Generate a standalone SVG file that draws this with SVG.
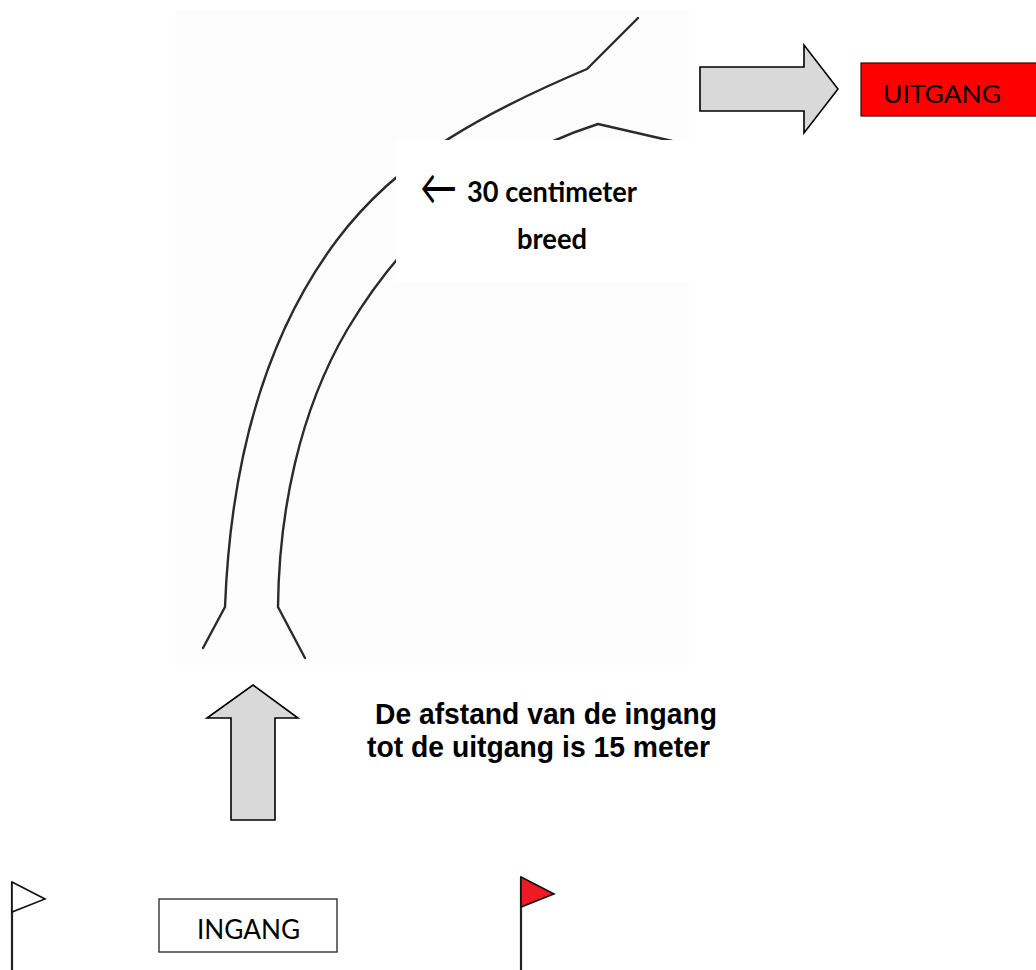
<svg xmlns="http://www.w3.org/2000/svg" width="1036" height="970" viewBox="0 0 1036 970">
  <style>
    .road { fill: none; stroke: #2b2b2b; stroke-width: 2.4; stroke-linecap: round; stroke-linejoin: round; }
    .bigarrow { fill: #d9d9d9; stroke: #000; stroke-width: 1.6; stroke-linejoin: miter; }
    .lbl { font-family: Lato, "Open Sans", "Liberation Sans", sans-serif; fill: #000; }
    .bold { font-family: Lato, "Open Sans", "Liberation Sans", sans-serif; font-weight: 700; fill: #000; }
    .arial { font-family: "Liberation Sans", Arial, sans-serif; font-weight: 700; fill: #000; }
    .pole { stroke: #222; stroke-width: 2.2; fill: none; }
    .flag { stroke: #111; stroke-width: 1.6; stroke-linejoin: miter; }
  </style>

  <rect width="1036" height="970" fill="#ffffff"/>

  <!-- faint background picture area -->
  <rect x="175" y="10" width="515" height="655" fill="#fdfdfd"/>

  <!-- road path -->
  <g id="connectors">
    <path id="road-outer" class="road" d="M638,18 L587,69 C490,110 400,156 337,240 C259,344 230,477 225,607 L203,648"/>
    <path id="road-inner" class="road" d="M672,141 L598,124 C489,159 406,231 347,330 C299,412 279,512 278,607 L305,658"/>
  </g>

  <!-- white label box over the road -->
  <g id="width-label">
    <rect x="396" y="140" width="294" height="142" fill="#ffffff"/>
    <text class="lbl" x="420" y="205" font-size="50" textLength="37" lengthAdjust="spacingAndGlyphs">←</text>
    <text class="bold" x="467" y="202" font-size="29" textLength="170" lengthAdjust="spacingAndGlyphs">30 centimeter</text>
    <text class="bold" x="517" y="249" font-size="29" textLength="70" lengthAdjust="spacingAndGlyphs">breed</text>
  </g>

  <!-- arrow to exit -->
  <g id="arrow-right">
    <path class="bigarrow" d="M700,67 L804,67 L804,45 L838,89 L804,133 L804,111 L700,111 Z"/>
  </g>

  <!-- exit box -->
  <g id="uitgang">
    <rect x="861" y="63" width="180" height="53" fill="#ff0000" stroke="#3a0000" stroke-width="1.2"/>
    <text class="lbl" x="883" y="103" font-size="25" textLength="118" lengthAdjust="spacingAndGlyphs" fill="#111">UITGANG</text>
  </g>

  <!-- arrow up -->
  <g id="arrow-up">
    <path class="bigarrow" d="M253,685 L298,718 L275,718 L275,820 L231,820 L231,718 L207,718 Z"/>
  </g>

  <!-- distance text -->
  <g id="distance-label">
    <text class="arial" x="375" y="724" font-size="30" textLength="342" lengthAdjust="spacingAndGlyphs">De afstand van de ingang</text>
    <text class="arial" x="367" y="757" font-size="30" textLength="343" lengthAdjust="spacingAndGlyphs">tot de uitgang is 15 meter</text>
  </g>

  <!-- entrance box -->
  <g id="ingang">
    <rect x="159" y="899" width="178" height="53" fill="#ffffff" stroke="#333" stroke-width="1.4"/>
    <text class="lbl" x="197" y="939" font-size="26" textLength="103" lengthAdjust="spacingAndGlyphs">INGANG</text>
  </g>

  <!-- white flag -->
  <g id="flag-white">
    <line class="pole" x1="12" y1="882" x2="12" y2="970"/>
    <path class="flag" d="M12,882 L45,899 L12,912 Z" fill="#ffffff"/>
  </g>

  <!-- red flag -->
  <g id="flag-red">
    <line class="pole" x1="521" y1="877" x2="521" y2="970"/>
    <path class="flag" d="M521,877 L554,894 L521,907 Z" fill="#ed1c24"/>
  </g>
</svg>
